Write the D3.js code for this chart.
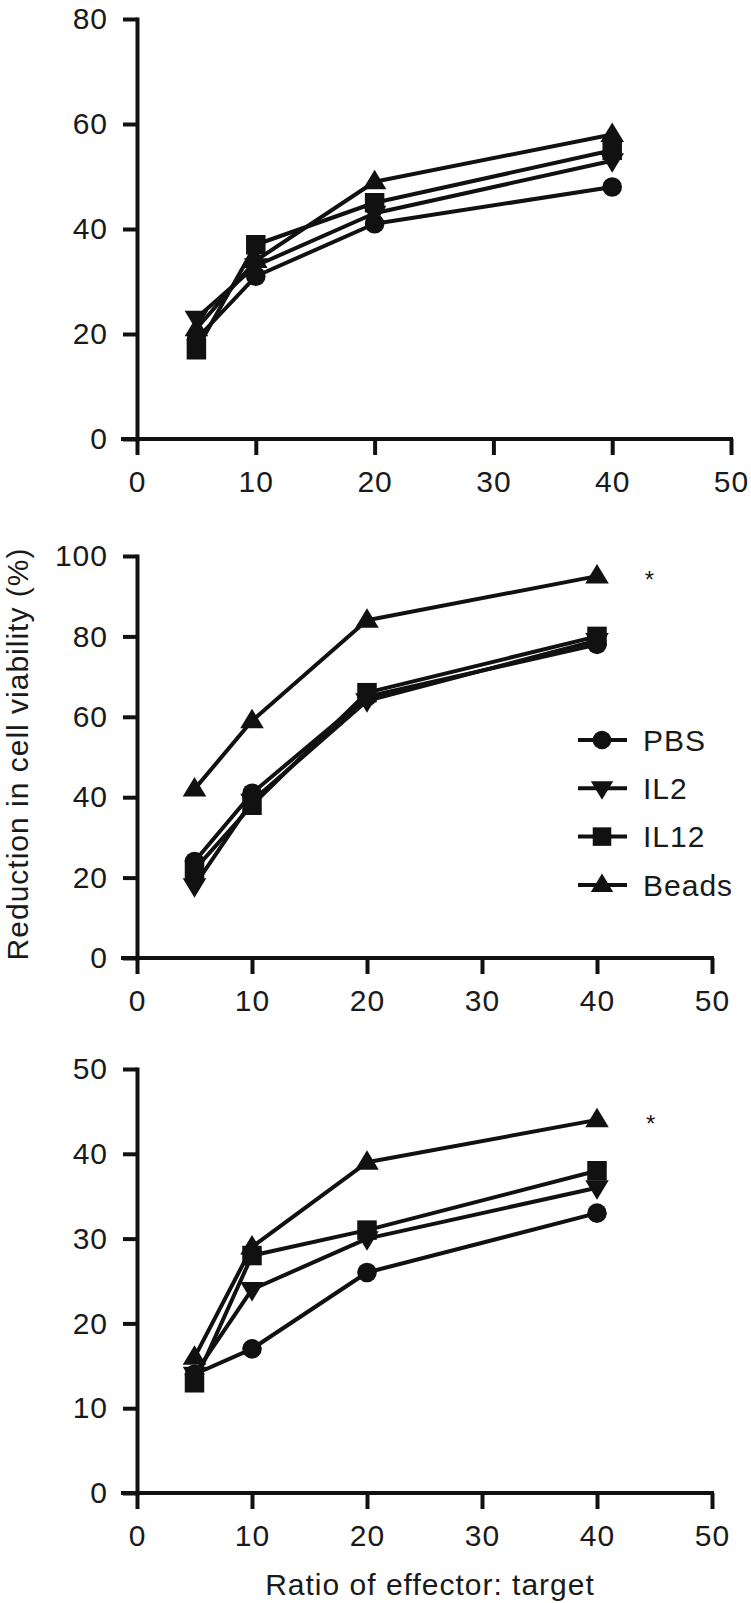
<!DOCTYPE html>
<html><head><meta charset="utf-8">
<script src="https://cdn.jsdelivr.net/npm/d3@7"></script>
<style>
html,body{margin:0;padding:0;background:#fff;}
svg{display:block;}
text{font-family:"Liberation Sans",Arial,Helvetica,sans-serif;fill:#1a1a1a;letter-spacing:1px;}
</style></head>
<body>
<script>
// ---- data ----
const ratios = [5, 10, 20, 40];
const seriesNames = ["PBS", "IL2", "IL12", "Beads"];
const xTicks = [0, 10, 20, 30, 40, 50];

// Panel 1
const pbs1 = [19, 31, 41, 48];
const il2_1 = [23, 33, 43, 53];
const il12_1 = [17, 37, 45, 55];
const beads1 = [21, 34, 49, 58];
const yTicks1 = [0, 20, 40, 60, 80];

// Panel 2
const pbs2 = [24, 41, 65, 78];
const il2_2 = [18, 39, 64, 79];
const il12_2 = [22, 38, 66, 80];
const beads2 = [42, 59, 84, 95];
const yTicks2 = [0, 20, 40, 60, 80, 100];

// Panel 3
const pbs3 = [14, 17, 26, 33];
const il2_3 = [14, 24, 30, 36];
const il12_3 = [13, 28, 31, 38];
const beads3 = [16, 29, 39, 44];
const yTicks3 = [0, 10, 20, 30, 40, 50];

const yLabel = "Reduction in cell viability (%)";
const xLabel = "Ratio of effector: target";
const starLabel = "*";

// ---- layout ----
const W = 751, H = 1603;
const svg = d3.select("body").append("svg").attr("width", W).attr("height", H);

const INK = "#111";
const FS = 30;
const markerType = {PBS: "circle", IL2: "down", IL12: "square", Beads: "up"};
const drawOrder = ["PBS", "IL2", "Beads", "IL12"];

function markerPath(type) {
  if (type === "circle") return d3.symbol(d3.symbolCircle, Math.PI * 9.8 * 9.8)();
  if (type === "square") return d3.symbol(d3.symbolSquare, 19.5 * 19.5)();
  const w = 11.8, h = 19.5;
  if (type === "up") return `M0,${-h * 0.62}L${w},${h * 0.38}L${-w},${h * 0.38}Z`;
  return `M0,${h * 0.62}L${w},${-h * 0.38}L${-w},${-h * 0.38}Z`;
}

const panels = [
  {x0: 137, x1: 731, y0: 439, y1: 19, yMax: 80, yTicks: yTicks1,
   data: {PBS: pbs1, IL2: il2_1, IL12: il12_1, Beads: beads1}, star: null},
  {x0: 137, x1: 712, y0: 958, y1: 556, yMax: 100, yTicks: yTicks2,
   data: {PBS: pbs2, IL2: il2_2, IL12: il12_2, Beads: beads2}, star: [44.6, 95]},
  {x0: 137, x1: 712, y0: 1493, y1: 1069, yMax: 50, yTicks: yTicks3,
   data: {PBS: pbs3, IL2: il2_3, IL12: il12_3, Beads: beads3}, star: [44.7, 44]}
];

panels.forEach((p, i) => {
  const x = d3.scaleLinear().domain([0, 50]).range([p.x0, p.x1]);
  const y = d3.scaleLinear().domain([0, p.yMax]).range([p.y0, p.y1]);
  const g = svg.append("g");

  const xa = g.append("g").attr("transform", `translate(0,${p.y0})`)
    .call(d3.axisBottom(x).tickValues(xTicks).tickSizeInner(16).tickSizeOuter(0).tickPadding(16));
  const ya = g.append("g").attr("transform", `translate(${p.x0},0)`)
    .call(d3.axisLeft(y).tickValues(p.yTicks).tickSizeInner(14).tickSizeOuter(0).tickPadding(15));
  [xa, ya].forEach(a => {
    a.select(".domain").attr("stroke", INK).attr("stroke-width", 4).attr("stroke-linecap", "square");
    a.selectAll(".tick line").attr("stroke", INK).attr("stroke-width", 4);
    a.selectAll(".tick text").attr("font-size", FS).attr("fill", "#1a1a1a")
      .attr("font-family", '"Liberation Sans",Arial,sans-serif');
  });
  xa.select(".domain").attr("d", `M${p.x0 - 14},0H${p.x1}`);

  const line = d3.line().x((d, k) => x(ratios[k])).y(d => y(d));
  seriesNames.forEach(s => {
    g.append("path").datum(p.data[s]).attr("d", line)
      .attr("fill", "none").attr("stroke", INK).attr("stroke-width", 4)
      .attr("stroke-linejoin", "round");
  });
  drawOrder.forEach(s => {
    g.selectAll(null).data(p.data[s]).enter().append("path")
      .attr("d", markerPath(markerType[s]))
      .attr("transform", (d, k) => `translate(${x(ratios[k])},${y(d)})`)
      .attr("fill", INK);
  });

  if (p.star) {
    g.append("text").attr("x", x(p.star[0])).attr("y", y(p.star[1]) + 12)
      .attr("text-anchor", "middle").attr("font-size", 24).text(starLabel);
  }

  if (i === 1) {
    const lg = svg.append("g");
    seriesNames.forEach((s, k) => {
      const cy = 740 + k * 48.3;
      lg.append("line").attr("x1", 578).attr("x2", 627).attr("y1", cy).attr("y2", cy)
        .attr("stroke", INK).attr("stroke-width", 4);
      lg.append("path").attr("d", markerPath(markerType[s]))
        .attr("transform", `translate(602,${cy}) scale(0.95)`).attr("fill", INK);
      lg.append("text").attr("x", 643).attr("y", cy).attr("dy", "0.36em")
        .attr("font-size", FS).text(s);
    });
  }
});

svg.append("text").attr("transform", "translate(28,754) rotate(-90)")
  .attr("text-anchor", "middle").attr("font-size", FS).text(yLabel);
svg.append("text").attr("x", 430).attr("y", 1595)
  .attr("text-anchor", "middle").attr("font-size", FS).text(xLabel);
</script>
</body></html>
